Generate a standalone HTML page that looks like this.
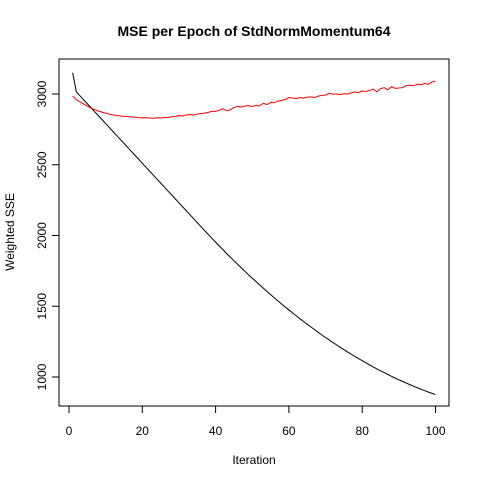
<!DOCTYPE html>
<html><head><style>body{margin:0;background:#fff}svg{display:block;font-family:"Liberation Sans",Arial,sans-serif}</style></head>
<body>
<svg id="c" width="480" height="480">
<text x="254" y="36" text-anchor="middle" font-weight="bold" font-size="14">MSE per Epoch of StdNormMomentum64</text>
<rect x="59" y="59" width="390" height="347" fill="none" stroke="#000"/>
<text x="254" y="464" text-anchor="middle" font-size="12">Iteration</text>
<text transform="translate(14,232) rotate(-90)" text-anchor="middle" font-size="12">Weighted SSE</text>
<g id="ax"></g>
</svg>
<script>
const xTicks=[0,20,40,60,80,100];
const yTicks=[1000,1500,2000,2500,3000];
const blackSeries=[3150,3015,2987,2959,2931,2903,2875,2847,2819,2791,2763,2735,2707,2679,2651,2623,2595,2567,2539,2511,2483,2455,2427,2399,2371,2343,2315,2287,2259,2231,2203,2175,2147,2119,2091,2063,2035,2007,1980,1953,1926,1900,1873,1847,1822,1797,1772,1747,1722,1698,1675,1651,1628,1605,1582,1560,1538,1516,1495,1474,1453,1433,1412,1392,1373,1354,1335,1316,1297,1279,1262,1244,1227,1210,1193,1177,1161,1145,1130,1115,1100,1086,1071,1057,1044,1031,1018,1005,992,980,969,957,946,935,924,914,904,894,885,876];
const redSeries=[2985,2960,2945,2930,2915,2900,2890,2880,2872,2865,2858,2852,2848,2845,2842,2840,2838,2836,2833,2830,2833,2830,2828,2832,2830,2835,2833,2838,2842,2848,2845,2852,2855,2852,2858,2862,2865,2870,2878,2877,2885,2895,2882,2888,2905,2912,2908,2915,2918,2912,2920,2915,2935,2925,2940,2938,2950,2955,2960,2975,2972,2968,2975,2970,2978,2980,2975,2985,2990,2992,3005,2998,3000,2995,3002,3000,3008,3015,3010,3022,3018,3025,3035,3015,3038,3045,3030,3052,3040,3042,3045,3060,3062,3058,3070,3065,3075,3068,3085,3090];
const NS='http://www.w3.org/2000/svg';
const svg=document.getElementById('c');
const xs=v=>69+v*3.665;
const ys=v=>377-(v-1000)*0.1415;
function mk(t,a){const e=document.createElementNS(NS,t);for(const k in a)e.setAttribute(k,a[k]);svg.appendChild(e);return e;}
xTicks.forEach(t=>{
 const l=mk('line',{x1:xs(t),x2:xs(t),y1:406,y2:413,stroke:'#000'});
 
 
 const tx=mk('text',{x:xs(t),y:435,'text-anchor':'middle','font-size':12});tx.textContent=t;
 
 
});
mk('line',{x1:xs(0),x2:xs(100),y1:406,y2:406,stroke:'#000'});
yTicks.forEach(t=>{
 const l=mk('line',{x1:52,x2:59,y1:ys(t),y2:ys(t),stroke:'#000'});
 
 
 const tx=mk('text',{transform:`translate(46,${ys(t)}) rotate(-90)`,'text-anchor':'middle','font-size':12});tx.textContent=t;
 
 
});
function line(arr,col,name){
 const p=mk('polyline',{points:arr.map((v,i)=>xs(i+1)+','+ys(v)).join(' '),fill:'none',stroke:col,'stroke-width':1});
 
 
}
line(blackSeries,'#000','black-series-line');
line(redSeries,'#ff0000','red-series-line');
</script>
</body></html>
